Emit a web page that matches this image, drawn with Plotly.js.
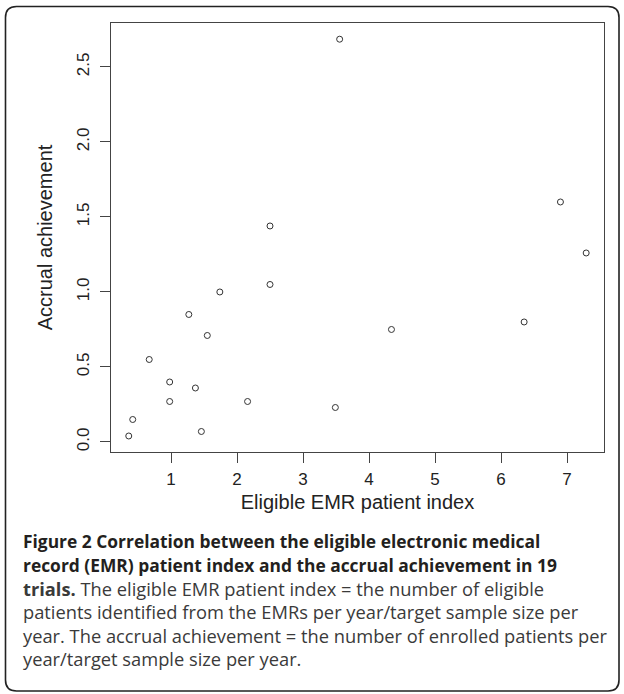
<!DOCTYPE html>
<html>
<head>
<meta charset="utf-8">
<script src="https://cdn.plot.ly/plotly-3.0.1.min.js"></script>
<style>
  html, body { margin: 0; padding: 0; background: #fff; }
  #chart { width: 624px; height: 694px; }
</style>
</head>
<body>
<div id="chart"></div>
<script>
// Data (19 trials)
const eligibleIndex = [0.36, 0.42, 0.67, 0.98, 0.98, 1.27, 1.37, 1.46, 1.55, 1.74, 2.16, 2.50, 2.50, 3.49, 3.555, 4.34, 6.35, 6.90, 7.29];
const accrualAchievement = [0.04, 0.15, 0.55, 0.27, 0.40, 0.85, 0.36, 0.07, 0.71, 1.00, 0.27, 1.44, 1.05, 0.23, 2.685, 0.75, 0.80, 1.60, 1.26];
const xTicks = [1, 2, 3, 4, 5, 6, 7];
const yTicks = [0, 0.5, 1.0, 1.5, 2.0, 2.5];
const xTitle = "Eligible EMR patient index";
const yTitle = "Accrual achievement";
const captionLines = [
  "<b>Figure 2 Correlation between the eligible electronic medical</b>",
  "<b>record (EMR) patient index and the accrual achievement in 19</b>",
  "<b>trials.</b> The eligible EMR patient index = the number of eligible",
  "patients identified from the EMRs per year/target sample size per",
  "year. The accrual achievement = the number of enrolled patients per",
  "year/target sample size per year."
];

// Layout geometry (pixels)
const W = 624, H = 694;
const M = {l: 111, r: 20, t: 23, b: 242};
const plotW = W - M.l - M.r, plotH = H - M.t - M.b;
const px = v => (v - M.l) / plotW;
const py = v => (H - M.b - v) / plotH;

// Rounded outer frame as a paper-referenced path
function framePath(x0, y0, x1, y1, r) {
  const f = (x, y) => px(x).toFixed(5) + ',' + py(y).toFixed(5);
  return 'M' + f(x0 + r, y0) + ' L' + f(x1 - r, y0) + ' Q' + f(x1, y0) + ' ' + f(x1, y0 + r) +
         ' L' + f(x1, y1 - r) + ' Q' + f(x1, y1) + ' ' + f(x1 - r, y1) +
         ' L' + f(x0 + r, y1) + ' Q' + f(x0, y1) + ' ' + f(x0, y1 - r) +
         ' L' + f(x0, y0 + r) + ' Q' + f(x0, y0) + ' ' + f(x0 + r, y0) + ' Z';
}

const captionY = [541, 564.5, 588, 611.5, 635, 658];
const annotations = captionLines.map((t, i) => ({
  text: t, xref: 'paper', yref: 'paper', x: px(21), y: py(captionY[i]),
  xanchor: 'left', yanchor: 'middle', showarrow: false, align: 'left',
  font: {family: 'Open Sans, Noto Sans, sans-serif', size: i < 2 ? 17.4 : 18.3, color: i < 2 ? '#231f20' : '#3a3a3a'}
}));

const trace = {
  x: eligibleIndex, y: accrualAchievement, type: 'scatter', mode: 'markers',
  marker: {symbol: 'circle-open', size: 6, color: '#333', line: {width: 1, color: '#333'}},
  hoverinfo: 'x+y'
};

const axisFont = {family: 'Liberation Sans, Arial, sans-serif', size: 17, color: '#222'};
const layout = {
  width: W, height: H, margin: M, showlegend: false,
  paper_bgcolor: '#fff', plot_bgcolor: '#fff',
  xaxis: {
    range: [0.091, 7.56], tickvals: xTicks, ticktext: xTicks.map(String),
    showgrid: false, zeroline: false, showline: true, mirror: true, linecolor: '#444', linewidth: 1,
    ticks: 'outside', ticklen: 10, tickwidth: 1, tickcolor: '#444', tickfont: axisFont,
    ticklabelstandoff: 2,
    title: {text: xTitle, font: {family: 'Liberation Sans, Arial, sans-serif', size: 20, color: '#222'}, standoff: 6}
  },
  yaxis: {
    range: [-0.0667, 2.793], tickvals: yTicks, ticktext: yTicks.map(v => v.toFixed(1)),
    showgrid: false, zeroline: false, showline: true, mirror: true, linecolor: '#444', linewidth: 1,
    ticks: 'outside', ticklen: 10, tickwidth: 1, tickcolor: '#444', tickfont: axisFont, tickangle: -90,
    ticklabelstandoff: 4,
    title: {text: yTitle, font: {family: 'Liberation Sans, Arial, sans-serif', size: 20, color: '#222'}, standoff: 16}
  },
  shapes: [{
    type: 'path', xref: 'paper', yref: 'paper', path: framePath(5.5, 6.5, 619, 691, 11),
    line: {color: '#222', width: 1.6}, fillcolor: 'rgba(0,0,0,0)', layer: 'below'
  }],
  annotations: annotations
};

Plotly.newPlot('chart', [trace], layout, {staticPlot: true, displayModeBar: false});
</script>
</body>
</html>
